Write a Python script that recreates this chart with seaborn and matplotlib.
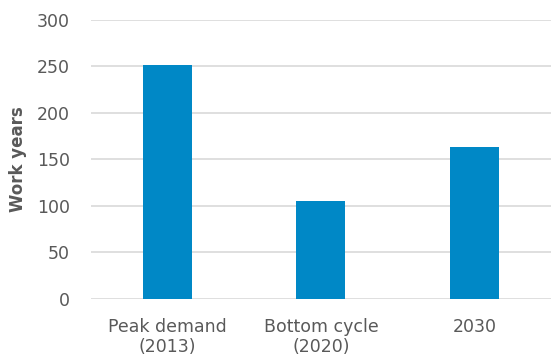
import numpy as np
import pandas as pd
import seaborn as sns
import matplotlib.pyplot as plt

categories = ['Peak demand\n(2013)', 'Bottom cycle\n(2020)', '2030']
work_years = [251, 105, 163]

def plot_chart():
    sns.set_style('white')
    plt.rcParams['font.family'] = 'sans-serif'
    plt.rcParams['font.sans-serif'] = ['DejaVu Sans']
    fig = plt.figure(figsize=(5.51, 3.55), dpi=100)
    ax = fig.add_axes([0.165, 0.158, 0.835, 0.786])

    df = pd.DataFrame({'category': categories, 'value': work_years})
    sns.barplot(data=df, x='category', y='value', color='#0088C6',
                saturation=1, width=0.32, linewidth=0, ax=ax, zorder=3)

    ax.set_ylim(0, 300)
    ax.set_xlim(-0.5, 2.5)
    ax.set_yticks(np.arange(0, 301, 50))
    ax.yaxis.grid(True, color='#D9D9D9', linewidth=1.2, zorder=0)
    ax.set_axisbelow(True)
    for s in ax.spines.values():
        s.set_visible(False)

    ax.tick_params(axis='both', length=0, labelsize=12.5, labelcolor='#595959')
    ax.tick_params(axis='y', pad=15)
    ax.tick_params(axis='x', pad=14)
    for lab in ax.get_xticklabels():
        lab.set_linespacing(1.1)
    ax.set_xlabel('')
    ax.set_ylabel('Work years', fontsize=12, fontweight='bold', color='#595959', va='center')
    ax.yaxis.set_label_coords(-0.159, 0.5)

    fig.savefig('out.png', dpi=100)
    plt.close(fig)

if __name__ == '__main__':
    plot_chart()
